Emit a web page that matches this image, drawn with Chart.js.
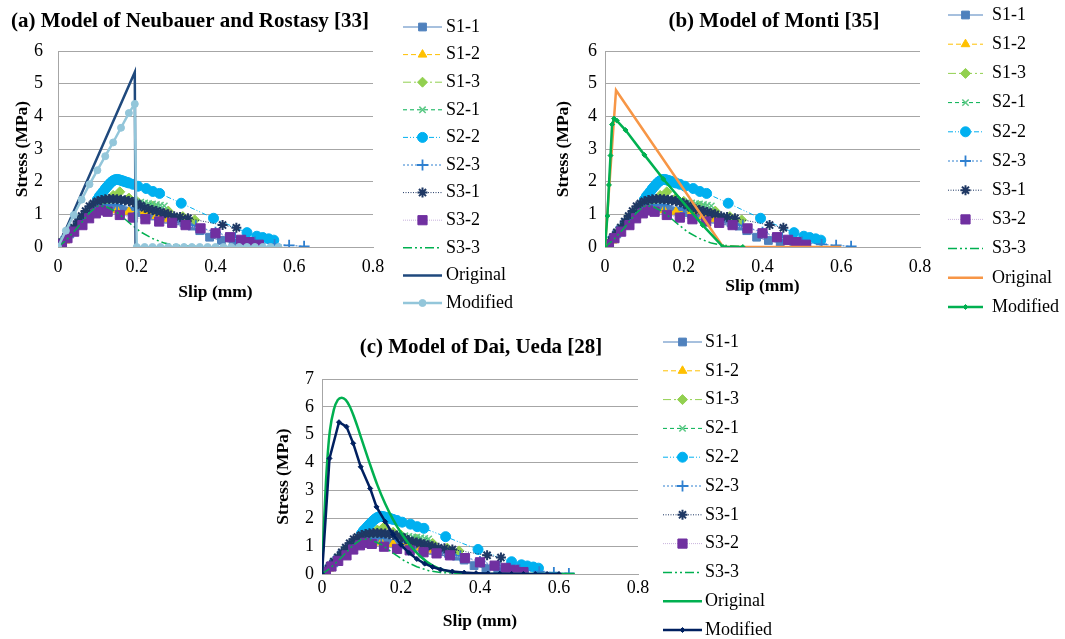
<!DOCTYPE html>
<html>
<head>
<meta charset="utf-8">
<script src="https://cdn.jsdelivr.net/npm/chart.js@4.4.0/dist/chart.umd.min.js"></script>
<style>
  html, body { margin: 0; padding: 0; background: #fff; }
  body { width: 1065px; height: 639px; position: relative; overflow: hidden; }
  .painel { position: absolute; }
</style>
</head>
<body>
<div class="painel" style="left:0;top:0"><canvas id="graficoA" width="530" height="320"></canvas></div>
<div class="painel" style="left:540px;top:0"><canvas id="graficoB" width="525" height="320"></canvas></div>
<div class="painel" style="left:250px;top:320px"><canvas id="graficoC" width="560" height="319"></canvas></div>
<script>
// ensaios (slip mm, stress MPa)
const nomesSeries = ['S1-1', 'S1-2', 'S1-3', 'S2-1', 'S2-2', 'S2-3', 'S3-1', 'S3-2', 'S3-3'];

const s1_1 = [[0,0],[0.01,0.1],[0.02,0.25],[0.03,0.4],[0.04,0.55],[0.05,0.7],[0.06,0.85],[0.07,0.98],[0.08,1.08],[0.09,1.15],[0.1,1.2],[0.12,1.22],[0.14,1.2],[0.16,1.15],[0.18,1.1],[0.2,1.05],[0.22,1.0],[0.24,0.95],[0.26,0.9],[0.28,0.85],[0.3,0.8],[0.32,0.74],[0.34,0.64],[0.36,0.5],[0.385,0.3],[0.415,0.2],[0.445,0.12],[0.48,0.05],[0.513,0]];
const s1_2 = [[0,0],[0.02,0.2],[0.04,0.45],[0.06,0.7],[0.08,0.95],[0.1,1.1],[0.12,1.15],[0.15,1.12],[0.18,1.08],[0.22,1.1],[0.25,0.95],[0.28,0.85]];
const s1_3 = [[0,0],[0.02,0.25],[0.04,0.55],[0.06,0.85],[0.08,1.1],[0.1,1.3],[0.12,1.45],[0.14,1.58],[0.157,1.69],[0.18,1.5],[0.2,1.4],[0.24,1.25],[0.28,1.1],[0.317,0.93],[0.347,0.83]];
const s2_1 = [[0,0],[0.02,0.3],[0.04,0.6],[0.06,0.9],[0.08,1.15],[0.1,1.3],[0.11,1.38],[0.12,1.42],[0.13,1.44],[0.14,1.45],[0.15,1.45],[0.16,1.44],[0.17,1.43],[0.18,1.42],[0.19,1.4],[0.2,1.38],[0.21,1.37],[0.22,1.35],[0.23,1.33],[0.24,1.32],[0.25,1.3],[0.26,1.28],[0.27,1.26]];
const s2_2 = [[0,0],[0.1,1.45],[0.105,1.55],[0.11,1.62],[0.115,1.7],[0.12,1.78],[0.125,1.85],[0.13,1.92],[0.135,1.98],[0.14,2.03],[0.145,2.06],[0.15,2.07],[0.155,2.06],[0.16,2.04],[0.165,2.02],[0.17,2.0],[0.175,1.98],[0.18,1.96],[0.19,1.92],[0.203,1.86],[0.224,1.79],[0.241,1.7],[0.258,1.64],[0.313,1.34],[0.395,0.88],[0.48,0.44],[0.505,0.33],[0.52,0.29],[0.535,0.25],[0.548,0.21]];
const s2_3 = [[0,0],[0.02,0.3],[0.04,0.6],[0.06,0.85],[0.08,1.05],[0.1,1.2],[0.12,1.28],[0.15,1.3],[0.2,1.2],[0.25,1.05],[0.3,0.85],[0.35,0.65],[0.4,0.45],[0.45,0.28],[0.5,0.15],[0.55,0.08],[0.587,0.05],[0.625,0.02]];
const s3_1 = [[0,0],[0.01,0.15],[0.02,0.3],[0.03,0.45],[0.04,0.6],[0.05,0.78],[0.06,0.95],[0.07,1.1],[0.08,1.25],[0.09,1.33],[0.1,1.4],[0.11,1.44],[0.12,1.46],[0.13,1.47],[0.14,1.47],[0.15,1.46],[0.16,1.45],[0.17,1.43],[0.18,1.41],[0.19,1.38],[0.2,1.33],[0.21,1.27],[0.22,1.2],[0.23,1.16],[0.24,1.13],[0.25,1.1],[0.26,1.07],[0.27,1.03],[0.28,1.0],[0.295,0.94],[0.31,0.92],[0.33,0.88],[0.418,0.67],[0.453,0.59]];
const s3_2 = [[0,0.02],[0.01,0.08],[0.024,0.27],[0.041,0.47],[0.062,0.67],[0.079,0.88],[0.096,1.03],[0.109,1.12],[0.126,1.08],[0.157,0.98],[0.19,0.9],[0.222,0.85],[0.257,0.78],[0.29,0.74],[0.324,0.67],[0.362,0.57],[0.4,0.42],[0.437,0.3],[0.465,0.22],[0.486,0.15],[0.51,0.07]];
const s3_3 = [[0,0],[0.02,0.2],[0.05,0.6],[0.08,1.05],[0.1,1.25],[0.12,1.25],[0.15,1.06],[0.18,0.75],[0.21,0.46],[0.24,0.26],[0.27,0.12],[0.3,0.05],[0.35,0.02]];

// modelos
const originalA = [[0,0],[0.195,5.35],[0.197,0]];
const modificadoA = [[0,0],[0.02,0.5],[0.04,0.98],[0.06,1.45],[0.08,1.92],[0.1,2.35],[0.12,2.78],[0.14,3.2],[0.16,3.65],[0.18,4.1],[0.195,4.38],[0.2,0],[0.22,0],[0.24,0],[0.26,0],[0.28,0],[0.3,0],[0.32,0],[0.34,0],[0.36,0],[0.38,0],[0.4,0],[0.42,0],[0.44,0],[0.46,0],[0.48,0],[0.5,0],[0.52,0],[0.54,0],[0.56,0]];
const originalB = [[0,0],[0.028,4.8],[0.3,0],[0.6,0]];
const modificadoB = [[0,0],[0.006,0.95],[0.01,1.9],[0.014,2.8],[0.018,3.75],[0.023,3.93],[0.03,3.87],[0.052,3.58],[0.1,2.82],[0.148,2.08],[0.248,0.67],[0.3,0],[0.35,0]];
const originalC = [[0,0],[0.005,1.8],[0.01,3.3],[0.015,4.4],[0.02,5.15],[0.03,5.9],[0.04,6.25],[0.05,6.33],[0.06,6.25],[0.07,6.02],[0.08,5.68],[0.09,5.28],[0.1,4.85],[0.12,4.0],[0.14,3.2],[0.16,2.52],[0.18,1.95],[0.2,1.48],[0.22,1.08],[0.25,0.62],[0.28,0.3],[0.31,0.13],[0.34,0.05],[0.38,0.01],[0.42,0],[0.64,0]];
const modificadoC = [[0,0],[0.019,4.15],[0.043,5.45],[0.062,5.29],[0.079,4.69],[0.098,3.85],[0.122,3.07],[0.138,2.41],[0.16,1.88],[0.18,1.42],[0.2,1.05],[0.22,0.76],[0.24,0.54],[0.26,0.37],[0.28,0.25],[0.3,0.16],[0.33,0.09],[0.36,0.05],[0.39,0.03],[0.42,0.015],[0.45,0.01],[0.48,0],[0.51,0],[0.54,0],[0.57,0],[0.6,0]];

const ensaios = [s1_1, s1_2, s1_3, s2_1, s2_2, s2_3, s3_1, s3_2, s3_3];

const fonte = 'Liberation Serif';
const cinza = '#A6A6A6';

const estilos = [
  { borderColor: '#4F81BD', borderWidth: 1, pointStyle: 'rect', pointRadius: 5.5, pointBackgroundColor: '#4F81BD', pointBorderColor: '#4F81BD' },
  { borderColor: '#FFC000', borderWidth: 1, borderDash: [5, 3], pointStyle: 'triangle', pointRadius: 5, pointBackgroundColor: '#FFC000', pointBorderColor: '#FFC000' },
  { borderColor: '#92D050', borderWidth: 1, borderDash: [8, 3, 2, 3], pointStyle: 'rectRot', pointRadius: 5, pointBackgroundColor: '#92D050', pointBorderColor: '#92D050' },
  { borderColor: '#00B050', borderWidth: 1, borderDash: [4, 3], pointStyle: 'crossRot', pointRadius: 4.5, pointBackgroundColor: '#5CC985', pointBorderColor: '#5CC985', pointBorderWidth: 1.5 },
  { borderColor: '#00B0F0', borderWidth: 1, borderDash: [5, 2, 1, 2, 1, 2], pointStyle: 'circle', pointRadius: 5, pointBackgroundColor: '#00B0F0', pointBorderColor: '#00B0F0' },
  { borderColor: '#2F80D0', borderWidth: 1, borderDash: [2, 2], pointStyle: 'cross', pointRadius: 5.5, pointBackgroundColor: '#2F80D0', pointBorderColor: '#2F80D0', pointBorderWidth: 1.8 },
  { borderColor: '#1F3864', borderWidth: 1, borderDash: [1, 1.5], pointStyle: 'star', pointRadius: 5, pointBackgroundColor: '#1F3864', pointBorderColor: '#1F3864', pointBorderWidth: 2 },
  { borderColor: '#C9B3DD', borderWidth: 1, borderDash: [1, 1], pointStyle: 'rect', pointRadius: 6.5, pointBackgroundColor: '#7030A0', pointBorderColor: '#7030A0' },
  { borderColor: '#00B050', borderWidth: 1.5, borderDash: [9, 3, 2, 3, 2, 3], pointRadius: 0 }
];

function pontos(lista) {
  return lista.map(p => ({ x: p[0], y: p[1] }));
}

function montarDatasets(modelos) {
  const todos = ensaios.map((dados, i) =>
    Object.assign({ label: nomesSeries[i], data: pontos(dados), pointBorderWidth: 1 }, estilos[i]));
  modelos.forEach(m => {
    todos.push(Object.assign({ data: pontos(m.dados), borderWidth: 2.5, pointBorderWidth: 1 }, m));
  });
  // ultima serie por cima, como no Excel
  todos.forEach((d, i) => {
    delete d.dados;
    d.showLine = true;
    d.order = todos.length - i;
  });
  return todos;
}

const legendaLateral = {
  id: 'legendaLateral',
  afterDraw(chart, args, opts) {
    const ctx = chart.ctx;
    ctx.save();
    chart.data.datasets.forEach((ds, i) => {
      const y = opts.y + i * opts.passo;
      ctx.beginPath();
      ctx.strokeStyle = ds.borderColor;
      ctx.lineWidth = ds.borderWidth;
      ctx.setLineDash(ds.borderDash || []);
      ctx.moveTo(opts.x, y);
      ctx.lineTo(opts.x + opts.largura, y);
      ctx.stroke();
      ctx.setLineDash([]);
      if (ds.pointRadius > 0 && Chart.helpers && Chart.helpers.drawPoint) {
        ctx.fillStyle = ds.pointBackgroundColor;
        ctx.strokeStyle = ds.pointBorderColor;
        ctx.lineWidth = ds.pointBorderWidth;
        Chart.helpers.drawPoint(ctx, {
          pointStyle: ds.pointStyle, radius: ds.pointRadius, rotation: 0, borderWidth: ds.pointBorderWidth
        }, opts.x + opts.largura / 2, y);
      }
      ctx.fillStyle = '#000';
      ctx.font = '18px "' + fonte + '"';
      ctx.textAlign = 'left';
      ctx.textBaseline = 'middle';
      ctx.fillText(ds.label, opts.x + opts.largura + opts.espaco, y);
    });
    ctx.font = 'bold 21px "' + fonte + '"';
    ctx.textAlign = 'center';
    ctx.textBaseline = 'middle';
    ctx.fillStyle = '#000';
    ctx.fillText(opts.titulo, opts.tituloX, opts.tituloY);
    ctx.restore();
  }
};

function criarGrafico(id, cfg) {
  const ctx = document.getElementById(id).getContext('2d');
  return new Chart(ctx, {
    type: 'scatter',
    data: { datasets: montarDatasets(cfg.modelos) },
    plugins: [legendaLateral],
    options: {
      responsive: false,
      animation: false,
      events: [],
      layout: { padding: { top: cfg.topo, right: cfg.direita, left: 0, bottom: 0 } },
      plugins: {
        legend: { display: false },
        tooltip: { enabled: false },
        legendaLateral: cfg.legenda
      },
      scales: {
        x: {
          type: 'linear', min: 0, max: 0.8,
          afterFit: s => { s.height = cfg.alturaX; },
          ticks: { stepSize: 0.2, autoSkip: false, maxRotation: 0, padding: cfg.padX, color: '#000', font: { family: fonte, size: 18 } },
          grid: { display: false, drawTicks: false },
          border: { display: true, color: cinza },
          title: { display: true, text: 'Slip (mm)', color: '#000', font: { family: fonte, size: 17.5, weight: 'bold' }, padding: { top: 0, bottom: cfg.tituloXpad } }
        },
        y: {
          min: 0, max: cfg.maxY,
          afterFit: s => { s.width = cfg.larguraY; },
          ticks: { stepSize: 1, padding: cfg.padY, color: '#000', font: { family: fonte, size: 18 } },
          grid: { color: cinza, drawTicks: false },
          border: { display: true, color: cinza },
          title: { display: true, text: 'Stress (MPa)', color: '#000', font: { family: fonte, size: 17.5, weight: 'bold' }, padding: { top: cfg.tituloYpad, bottom: 0 } }
        }
      }
    }
  });
}

criarGrafico('graficoA', {
  maxY: 6, topo: 51, direita: 157, alturaX: 73, larguraY: 58, padX: 9, padY: 15, tituloXpad: 17, tituloYpad: 12,
  modelos: [
    { label: 'Original', dados: originalA, borderColor: '#1F497D', pointRadius: 0 },
    { label: 'Modified', dados: modificadoA, borderColor: '#93C6DA', pointStyle: 'circle', pointRadius: 3.5, pointBackgroundColor: '#93C6DA', pointBorderColor: '#93C6DA' }
  ],
  legenda: { x: 403, largura: 39, espaco: 4, y: 27, passo: 27.6, titulo: '(a) Model of Neubauer and Rostasy [33]', tituloX: 190, tituloY: 22 }
});

criarGrafico('graficoB', {
  maxY: 6, topo: 51, direita: 145, alturaX: 73, larguraY: 65, padX: 9, padY: 8, tituloXpad: 23, tituloYpad: 13,
  modelos: [
    { label: 'Original', dados: originalB, borderColor: '#F79646', pointRadius: 0 },
    { label: 'Modified', dados: modificadoB, borderColor: '#00B050', pointStyle: 'rectRot', pointRadius: 2.5, pointBackgroundColor: '#00B050', pointBorderColor: '#00B050' }
  ],
  legenda: { x: 408, largura: 35, espaco: 9, y: 15, passo: 29.2, titulo: '(b) Model of Monti [35]', tituloX: 234, tituloY: 22 }
});

criarGrafico('graficoC', {
  maxY: 7, topo: 59, direita: 172, alturaX: 65, larguraY: 72, padX: 3, padY: 8, tituloXpad: 7, tituloYpad: 23,
  modelos: [
    { label: 'Original', dados: originalC, borderColor: '#00B050', pointRadius: 0, cubicInterpolationMode: 'monotone' },
    { label: 'Modified', dados: modificadoC, borderColor: '#002060', pointStyle: 'rectRot', pointRadius: 2.5, pointBackgroundColor: '#002060', pointBorderColor: '#002060' }
  ],
  legenda: { x: 413, largura: 39, espaco: 3, y: 22, passo: 28.8, titulo: '(c) Model of Dai, Ueda [28]', tituloX: 231, tituloY: 28 }
});
</script>
</body>
</html>
